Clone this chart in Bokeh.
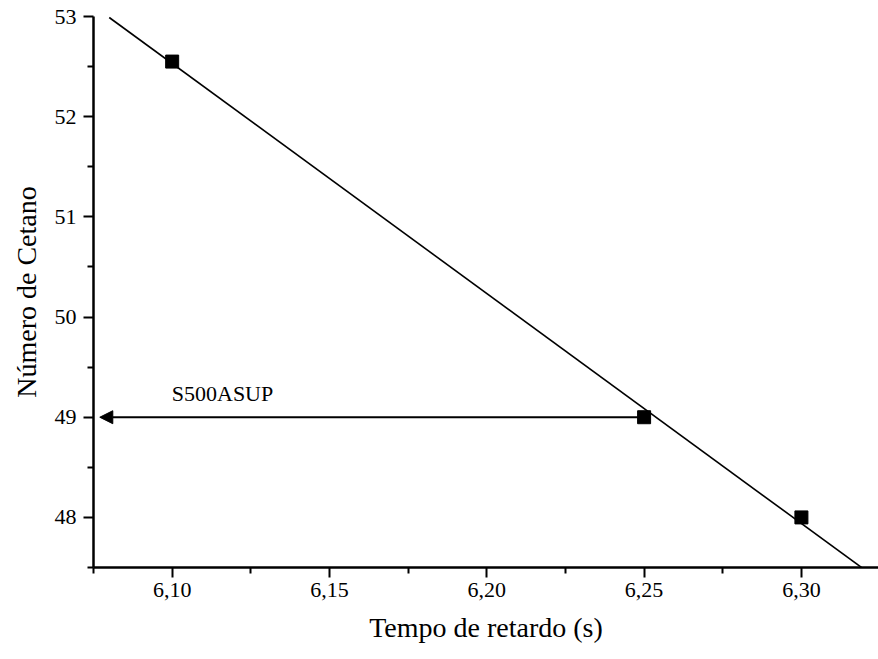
from bokeh.plotting import figure
from bokeh.models import Range1d, Arrow, NormalHead, FixedTicker, CustomJSTickFormatter
from bokeh.core.properties import value
from bokeh.embed import file_html
from bokeh.resources import INLINE

# Data
tempo = [6.10, 6.25, 6.30]
cetano = [52.55, 49.0, 48.0]
fit_x = [6.08, 6.32]
fit_y = [52.99, 47.48]
arrow_from = (6.25, 49.0)
arrow_to_x = 6.077
label_text = "S500ASUP"
label_pos = (6.116, 49.24)
x_ticks = [6.10, 6.15, 6.20, 6.25, 6.30]
x_minor = [6.075, 6.125, 6.175, 6.225, 6.275, 6.325]
y_ticks = [48, 49, 50, 51, 52, 53]
y_minor = [47.5, 48.5, 49.5, 50.5, 51.5, 52.5]

FONT = "Liberation Serif"

p = figure(width=878, height=659, output_backend="svg", toolbar_location=None,
           x_range=Range1d(6.075, 6.3245), y_range=Range1d(47.5, 53.0),
           min_border_left=93, min_border_right=0, min_border_top=16,
           min_border_bottom=92)
p.outline_line_color = None
p.xgrid.visible = False
p.ygrid.visible = False
p.background_fill_color = "white"
p.border_fill_color = "white"

p.line(fit_x, fit_y, line_color="black", line_width=1.6)
p.scatter(tempo, cetano, marker="square", size=13, color="black")

p.add_layout(Arrow(end=NormalHead(size=13, fill_color="black", line_color="black"),
                   x_start=arrow_from[0] - 0.002, y_start=arrow_from[1],
                   x_end=arrow_to_x, y_end=arrow_from[1],
                   line_color="black", line_width=1.8))
p.text(x=[label_pos[0]], y=[label_pos[1]], text=[label_text],
       text_font=value(FONT), text_font_size="22px", text_align="center",
       text_baseline="alphabetic", text_color="black")

fmt = CustomJSTickFormatter(code="return tick.toFixed(2).replace('.', ',');")
p.xaxis.ticker = FixedTicker(ticks=x_ticks, minor_ticks=x_minor)
p.xaxis.formatter = fmt
p.yaxis.ticker = FixedTicker(ticks=y_ticks, minor_ticks=y_minor)

for ax in (p.xaxis[0], p.yaxis[0]):
    ax.axis_line_color = "black"
    ax.axis_line_width = 2.5
    ax.major_tick_line_color = "black"
    ax.major_tick_line_width = 2
    ax.minor_tick_line_color = "black"
    ax.minor_tick_line_width = 2
    ax.major_tick_out = 10
    ax.major_tick_in = 0
    ax.minor_tick_out = 6
    ax.minor_tick_in = 0
    ax.major_label_text_font = FONT
    ax.major_label_text_font_size = "22px"
    ax.major_label_text_color = "black"
    ax.axis_label_text_font = FONT
    ax.axis_label_text_font_size = "28px"
    ax.axis_label_text_font_style = "normal"
    ax.axis_label_text_color = "black"

p.xaxis.axis_label = "Tempo de retardo (s)"
p.yaxis.axis_label = "Número de Cetano"
p.xaxis.major_label_standoff = 5
p.yaxis.major_label_standoff = 7
p.xaxis.axis_label_standoff = 12
p.yaxis.axis_label_standoff = 10

open("out.html", "w").write(file_html(p, INLINE))
